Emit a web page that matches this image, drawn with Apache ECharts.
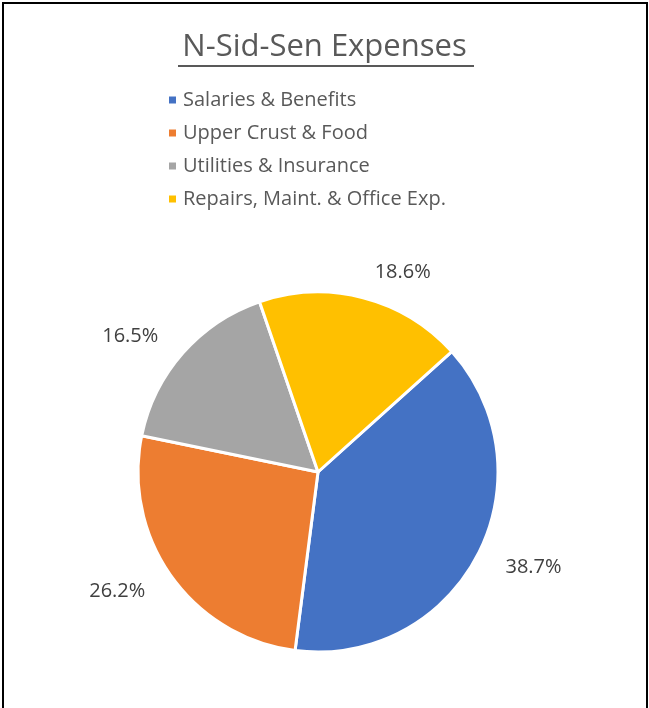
<!DOCTYPE html>
<html><head><meta charset="utf-8">
<script src="https://cdn.jsdelivr.net/npm/echarts@6/dist/echarts.min.js"></script>
<style>html,body{margin:0;padding:0;background:#fff}#c{width:649px;height:708px}</style>
</head><body><div id="c"></div>
<script>
const titleText = 'N-Sid-Sen Expenses';
const categories = ['Salaries & Benefits', 'Upper Crust & Food', 'Utilities & Insurance', 'Repairs, Maint. & Office Exp.'];
const values = [38.7, 26.2, 16.5, 18.6];
const colors = ['#4472C4', '#ED7D31', '#A5A5A5', '#FFC000'];

const chart = echarts.init(document.getElementById('c'), null, {renderer: 'canvas'});
chart.setOption({
  animation: false,
  color: colors,
  title: {
    text: titleText,
    left: 'center', top: 27,
    textStyle: {fontFamily: 'Open Sans', fontSize: 31, fontWeight: 'normal', color: '#595959'}
  },
  graphic: [
    {type: 'rect', shape: {x: 3, y: 3, width: 644, height: 720}, style: {fill: 'none', stroke: '#000', lineWidth: 2}},
    {type: 'line', shape: {x1: 178, y1: 66, x2: 474, y2: 66}, style: {stroke: '#595959', lineWidth: 2}}
  ],
  legend: {
    orient: 'vertical', left: 162, top: 85,
    itemWidth: 9, itemHeight: 9, itemGap: 13, icon: 'rect',
    textStyle: {fontFamily: 'Open Sans', fontSize: 20, color: '#595959', padding: [0, 0, 0, 1]},
    data: categories
  },
  series: [{
    type: 'pie',
    center: [318, 472], radius: 180,
    startAngle: 42, clockwise: true,
    itemStyle: {borderColor: '#fff', borderWidth: 3},
    label: {
      show: true, position: 'outside',
      formatter: p => p.value.toFixed(1) + '%',
      fontFamily: 'Open Sans', fontSize: 20, color: '#404040'
    },
    labelLine: {show: false, length: 26, length2: 0},
    data: categories.map((c, i) => ({name: c, value: values[i]}))
  }]
});
</script></body></html>
